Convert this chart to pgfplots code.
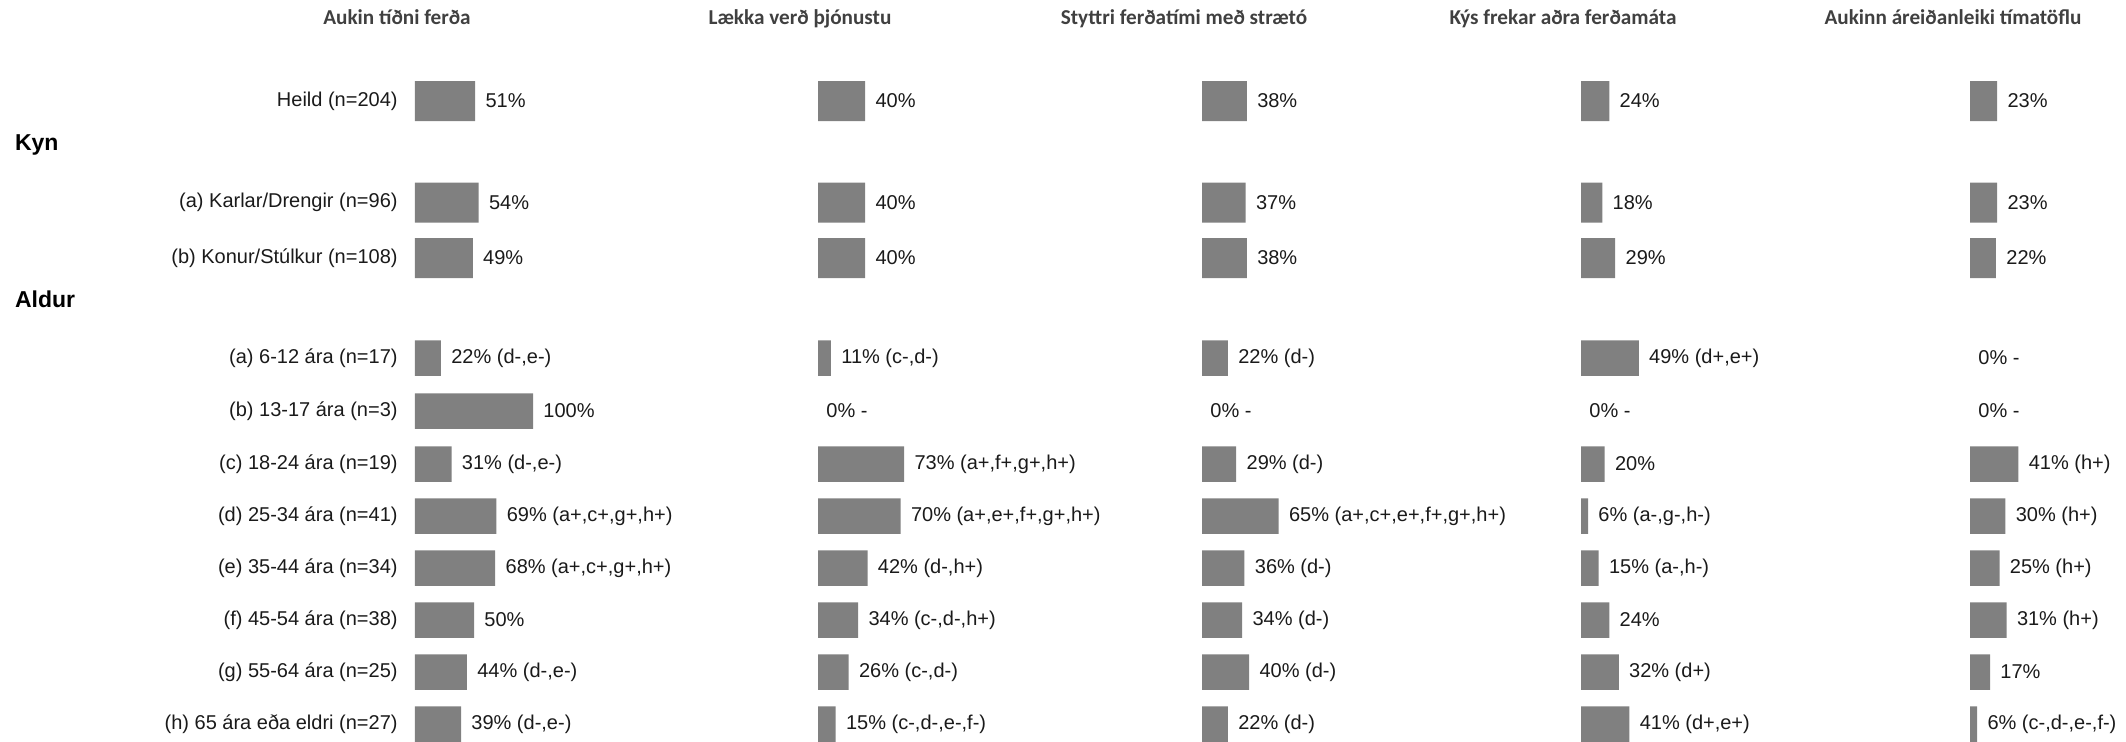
\documentclass[border=0pt]{standalone}
\usepackage{pgfplots}
\pgfplotsset{compat=1.18}
\usepackage{pgfplotstable}
\usepackage{fontspec}
\setmainfont{Liberation Sans}
\newfontfamily\titlefont{Carlito}
\definecolor{barc}{HTML}{808080}
\definecolor{titc}{HTML}{404040}
\definecolor{txtc}{HTML}{1A1A1A}

\pgfplotstableread[col sep=semicolon]{
y;p1;l1;p2;l2;p3;l3;p4;l4;p5;l5
101;51;51\%;40;40\%;38;38\%;24;24\%;23;23\%
202.5;54;54\%;40;40\%;37;37\%;18;18\%;23;23\%
258;49;49\%;40;40\%;38;38\%;29;29\%;22;22\%
358;22;22\% (d-,e-);11;11\% (c-,d-);22;22\% (d-);49;49\% (d+,e+);0;0\% -
411;100;100\%;0;0\% -;0;0\% -;0;0\% -;0;0\% -
464;31;31\% (d-,e-);73;73\% (a+,f+,g+,h+);29;29\% (d-);20;20\%;41;41\% (h+)
516;69;69\% (a+,c+,g+,h+);70;70\% (a+,e+,f+,g+,h+);65;65\% (a+,c+,e+,f+,g+,h+);6;6\% (a-,g-,h-);30;30\% (h+)
568;68;68\% (a+,c+,g+,h+);42;42\% (d-,h+);36;36\% (d-);15;15\% (a-,h-);25;25\% (h+)
620;50;50\%;34;34\% (c-,d-,h+);34;34\% (d-);24;24\%;31;31\% (h+)
672;44;44\% (d-,e-);26;26\% (c-,d-);40;40\% (d-);32;32\% (d+);17;17\%
724;39;39\% (d-,e-);15;15\% (c-,d-,e-,f-);22;22\% (d-);41;41\% (d+,e+);6;6\% (c-,d-,e-,f-)
}\tdata

\pgfplotsset{
  panel/.style={
    anchor=north west,
    scale only axis, width=59pt, height=370.5pt,
    xmin=0, xmax=100, ymin=0, ymax=741, y dir=reverse,
    clip=false,
    axis line style={draw=none},
    tick style={draw=none}, major tick length=0pt,
    xtick=\empty, ytick=\empty,
    xbar,
    point meta=explicit symbolic,
    nodes near coords,
    every node near coord/.append style={anchor=west, inner sep=0pt, xshift=5pt,
      font=\fontsize{10}{12}\selectfont, text=txtc},
  },
  topbar/.style={fill=barc, draw=none, bar width=40, bar shift=0pt,
    restrict y to domain=0:300},
  agebar/.style={fill=barc, draw=none, bar width=35.5, bar shift=0pt,
    restrict y to domain=300:800,
    x filter/.expression={x==0 ? nan : x}},
  agezero/.style={fill=none, draw=none, bar width=35.5, bar shift=0pt,
    restrict y to domain=300:800,
    x filter/.expression={x==0 ? 0 : nan},
    every node near coord/.append style={xshift=-1pt}},
}

\begin{document}
\begin{tikzpicture}
\path[use as bounding box] (0,0) rectangle (1063pt,370.5pt);

% panel titles
\begin{scope}[every node/.style={anchor=base, font=\titlefont\bfseries\fontsize{10.6}{12}\selectfont, text=titc}]
\node at (198.5pt,358pt) {Aukin tíðni ferða};
\node at (400pt,358pt) {Lækka verð þjónustu};
\node at (592pt,358pt) {Styttri ferðatími með strætó};
\node at (781.5pt,358pt) {Kýs frekar aðra ferðamáta};
\node at (976.5pt,358pt) {Aukinn áreiðanleiki tímatöflu};
\end{scope}

% group headers
\node[anchor=base west, font=\bfseries\fontsize{11.5}{13}\selectfont] at (4pt,295.5pt) {Kyn};
\node[anchor=base west, font=\bfseries\fontsize{11.5}{13}\selectfont] at (4pt,217pt) {Aldur};

\begin{axis}[panel, at={(207.5pt,370.5pt)},
  ytick={101,202.5,258,358,411,464,516,568,620,672,724},
  yticklabels={{Heild (n=204)},{(a) Karlar/Drengir (n=96)},{(b) Konur/Stúlkur (n=108)},
    {(a) 6-12 ára (n=17)},{(b) 13-17 ára (n=3)},{(c) 18-24 ára (n=19)},{(d) 25-34 ára (n=41)},
    {(e) 35-44 ára (n=34)},{(f) 45-54 ára (n=38)},{(g) 55-64 ára (n=25)},{(h) 65 ára eða eldri (n=27)}},
  yticklabel style={anchor=east, inner sep=0pt, xshift=-8.5pt, font=\fontsize{10}{12}\selectfont, text=txtc},
]
\addplot[topbar] table[x=p1, y=y, meta=l1] {\tdata};
\addplot[agebar] table[x=p1, y=y, meta=l1] {\tdata};
\addplot[agezero] table[x=p1, y=y, meta=l1] {\tdata};
\end{axis}

\begin{axis}[panel, at={(409pt,370.5pt)}]
\addplot[topbar] table[x=p2, y=y, meta=l2] {\tdata};
\addplot[agebar] table[x=p2, y=y, meta=l2] {\tdata};
\addplot[agezero] table[x=p2, y=y, meta=l2] {\tdata};
\end{axis}

\begin{axis}[panel, at={(601pt,370.5pt)}]
\addplot[topbar] table[x=p3, y=y, meta=l3] {\tdata};
\addplot[agebar] table[x=p3, y=y, meta=l3] {\tdata};
\addplot[agezero] table[x=p3, y=y, meta=l3] {\tdata};
\end{axis}

\begin{axis}[panel, at={(790.5pt,370.5pt)}]
\addplot[topbar] table[x=p4, y=y, meta=l4] {\tdata};
\addplot[agebar] table[x=p4, y=y, meta=l4] {\tdata};
\addplot[agezero] table[x=p4, y=y, meta=l4] {\tdata};
\end{axis}

\begin{axis}[panel, at={(985pt,370.5pt)}]
\addplot[topbar] table[x=p5, y=y, meta=l5] {\tdata};
\addplot[agebar] table[x=p5, y=y, meta=l5] {\tdata};
\addplot[agezero] table[x=p5, y=y, meta=l5] {\tdata};
\end{axis}
\end{tikzpicture}
\end{document}
